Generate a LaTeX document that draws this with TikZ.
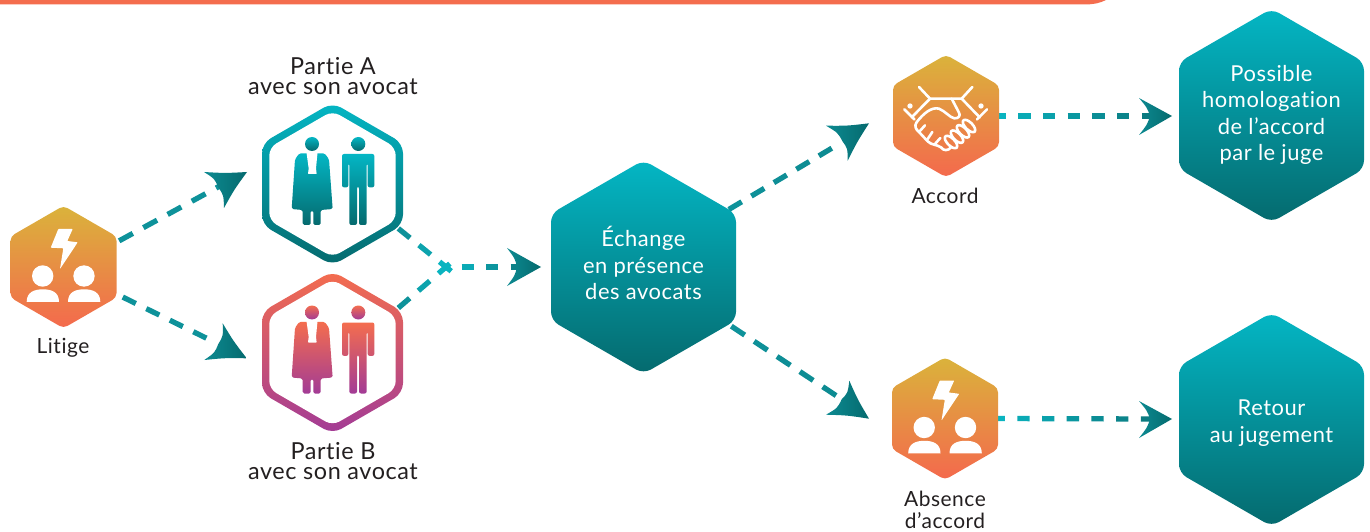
\documentclass[tikz,border=0pt]{standalone}
\usepackage{fontspec}
\usetikzlibrary{calc,shapes.geometric}
\setmainfont{Lato}[LetterSpace=2.5,Ligatures=CommonOff]
\definecolor{tealA}{HTML}{04B6C4}
\definecolor{tealB}{HTML}{056A6E}
\definecolor{dashA}{HTML}{0AB4C0}
\definecolor{dashB}{HTML}{0B7A80}
\definecolor{dashM}{HTML}{0E929A}
\definecolor{oranA}{HTML}{DAB33B}
\definecolor{oranB}{HTML}{F4694D}
\definecolor{purpA}{HTML}{F46D4E}
\definecolor{purpB}{HTML}{A23B96}
\definecolor{inkc}{HTML}{231F20}
\tikzset{
  hexbase/.style={regular polygon,regular polygon sides=6,shape border rotate=30,inner sep=0pt,outer sep=0pt},
  bighex/.style={hexbase,minimum size=213.6bp,rounded corners=8.5bp,top color=tealA,bottom color=tealB},
  hextext/.style={text=white,align=center,inner sep=0pt,font=\fontsize{22}{26.7}\selectfont},
  smallhex/.style={hexbase,minimum size=122.4bp,rounded corners=4.5bp,top color=oranA,bottom color=oranB},
  ringteal/.style={hexbase,minimum size=162.8bp,rounded corners=10bp,top color=tealA,bottom color=tealB},
  ringpurp/.style={hexbase,minimum size=162.8bp,rounded corners=10bp,top color=purpA,bottom color=purpB},
  ringin/.style={hexbase,minimum size=146bp,rounded corners=8bp,fill=white},
  lab/.style={text=inkc,align=center,inner sep=0pt,font=\fontsize{21}{22}\selectfont},
  biglab/.style={text=inkc,align=center,inner sep=0pt,font=\fontsize{23.5}{20}\selectfont},
  dashseg/.style={line width=5.3bp},
  whiteline/.style={draw=white,line width=2.6bp,line cap=round,line join=round,fill=none},
}
% dashed connector with a colour running along it
\newcommand\conn[8]{%
  \pgfmathtruncatemacro\nlast{#4-1}
  \foreach \i in {0,...,\nlast}{%
    \pgfmathsetmacro\da{#3+\i*#5}
    \pgfmathsetmacro\db{\da+#6}
    \pgfmathsetmacro\mx{100*\i/max(\nlast,1)}
    \draw[dashseg,color=#8!\mx!#7] ($(#1)!\da bp!(#2)$) -- ($(#1)!\db bp!(#2)$);
  }%
}
% concave arrowhead: tip, barb, notch, barb
\newcommand\headshape[4]{%
  \shade[left color=dashM!80!tealB,right color=tealB,rounded corners=0pt]
    (#2) .. controls ($(#2)!.5!(#1)!.08!(#3)$) .. (#1)
    .. controls ($(#4)!.5!(#1)!.08!(#3)$) .. (#4)
    .. controls ($(#4)!.5!(#3)!.1!(#1)$) .. (#3)
    .. controls ($(#2)!.5!(#3)!.1!(#1)$) .. (#2) -- cycle;
}
% lightning and two persons, in reference px, around the given hexagon
\newcommand\disputeicon[1]{%
  \begin{scope}[shift={(#1)}]
    \fill[white,rounded corners=.6bp] (-5.2,-38) -- (9.2,-38) -- (3.8,-26) -- (14.2,-24.7) -- (-3.5,2) -- (-0.2,-18.7) -- (-12.8,-19.3) -- cycle;
    \fill[white] (-20.8,9) circle (10.7);
    \fill[white] (20.5,9) circle (10.7);
    \fill[white] (-36.8,34.8) .. controls (-36.8,25) and (-29,22.3) .. (-20.6,22.3) .. controls (-12,22.3) and (-4.5,25) .. (-4.5,34.8) -- cycle;
    \fill[white] (4.5,34.8) .. controls (4.5,25) and (12,22.3) .. (20.6,22.3) .. controls (29,22.3) and (36.8,25) .. (36.8,34.8) -- cycle;
  \end{scope}%
}
% robed figure and plain figure
\newcommand\figures[3]{%
  \begin{scope}[shift={(#1)},x=1bp/3,y=-1bp/3,shift={(-157.5,-162)}]
    \shade[top color=#2,bottom color=#3] (96,42) circle (21);
    \shade[top color=#2,bottom color=#3] (235,42) circle (21);
    \shade[top color=#2,bottom color=#3,rounded corners=1.6bp]
      (35,237) -- (45,88) -- (58,70) -- (134,70) -- (147,88) -- (158,237) -- (122,240) -- (122,285) -- (100,285) -- (100,242) -- (92,242) -- (92,285) -- (68,285) -- (68,240) -- cycle;
    \fill[white,rounded corners=.5bp] (79,64) -- (113,64) -- (108,115) -- (110,132) -- (84,132) -- (86,115) -- cycle;
    \shade[top color=#2,bottom color=#3,rounded corners=2bp]
      (186,172) -- (186,72) -- (283,72) -- (283,172) -- (263,172) -- (263,100) -- (260,100) -- (260,285) -- (237,285) -- (237,170) -- (231,170) -- (231,285) -- (208,285) -- (208,100) -- (205,100) -- (205,172) -- cycle;
  \end{scope}%
}
\begin{document}
\begin{tikzpicture}[x=1bp,y=-1bp]
\useasboundingbox (0,0) rectangle (1370,532);
% top bar
\fill[purpA] (0,0) -- (1106,0) .. controls (1100,3) and (1094,4.4) .. (1086,4.4) -- (0,4.4) -- cycle;
% positions
\coordinate (litigeC) at (63.5,267);
\coordinate (junction) at (446,267);
% arrow head points
\coordinate (tipA) at (247,172);   \coordinate (bA1) at (204,172);   \coordinate (nA) at (218,187);   \coordinate (bA2) at (224,208);
\coordinate (tipB) at (246.7,358.3); \coordinate (bB1) at (222.7,323.3); \coordinate (nB) at (218.3,344); \coordinate (bB2) at (204.3,360);
\coordinate (tipE) at (541,267);   \coordinate (bE1) at (507,248);   \coordinate (nE) at (517,267);   \coordinate (bE2) at (507,286);
\coordinate (tipC) at (869,123.3); \coordinate (bC1) at (826,125.7); \coordinate (nC) at (842.7,141.7); \coordinate (bC2) at (847.7,160.7);
\coordinate (tipD) at (869,418.7); \coordinate (bD1) at (849.3,380.7); \coordinate (nD) at (841.7,399.3); \coordinate (bD2) at (826,414.7);
\coordinate (tipP) at (1172,116);  \coordinate (bP1) at (1139,98);   \coordinate (nP) at (1150,116);  \coordinate (bP2) at (1139,135);
\coordinate (tipR) at (1172,419);  \coordinate (bR1) at (1139,401);  \coordinate (nR) at (1150,419);  \coordinate (bR2) at (1139,438);
% placement of nodes for the connectors
\path node[hexbase,minimum size=122.4bp] (litigeP) at (litigeC) {}
      node[hexbase,minimum size=162.8bp] (partieAP) at (332.5,184) {}
      node[hexbase,minimum size=162.8bp] (partieBP) at (332.5,352.5) {}
      node[hexbase,minimum size=213.6bp] (echangeP) at (643.5,267) {}
      node[hexbase,minimum size=122.4bp] (accordP) at (946,116) {}
      node[hexbase,minimum size=122.4bp] (absenceP) at (945,418.5) {};
% connectors
\conn{litigeP.25}{nA}{3}{5}{27.6}{15.6}{dashM}{dashM}
\conn{litigeP.-27}{nB}{7}{4}{26.2}{14.5}{dashM}{dashM}
\conn{partieAP.-34}{junction}{1}{3}{26.5}{15}{dashM}{dashA}
\conn{partieBP.34}{junction}{1}{3}{26.5}{15}{dashM}{dashA}
\conn{junction}{nE}{15.5}{3}{24.5}{12}{dashA!70!dashM}{dashB}
\conn{echangeP.34}{nC}{0}{5}{26.2}{15}{dashM}{dashM!70!dashB}
\conn{echangeP.-34}{nD}{3}{5}{27.4}{16}{dashM}{dashM!70!dashB}
\conn{accordP.0}{nP}{-5.4}{7}{24.7}{12.3}{dashA}{dashB}
\conn{absenceP.0}{nR}{-5.4}{7}{24.7}{12.3}{dashA}{dashB}
\fill[dashA] (junction) circle (3.6);
% arrow heads
\headshape{tipA}{bA1}{nA}{bA2}
\headshape{tipB}{bB1}{nB}{bB2}
\headshape{tipE}{bE1}{nE}{bE2}
\headshape{tipC}{bC1}{nC}{bC2}
\headshape{tipD}{bD1}{nD}{bD2}
\headshape{tipP}{bP1}{nP}{bP2}
\headshape{tipR}{bR1}{nR}{bR2}
% nodes
\node[smallhex] (litige) at (litigeC) {};
\disputeicon{litige}
\node[lab] (litigeL) at (63,347.5) {Litige};
\node[ringteal] (partieA) at (332.5,184) {};
\node[ringin] (partieAin) at (partieA) {};
\figures{partieA}{tealA}{tealB}
\node[biglab] (partieAL) at (333,76.5) {Partie A\\avec son avocat};
\node[ringpurp] (partieB) at (332.5,352.5) {};
\node[ringin] (partieBin) at (partieB) {};
\figures{partieB}{purpA}{purpB}
\node[biglab] (partieBL) at (333,461.5) {Partie B\\avec son avocat};
\node[bighex] (echange) at (643.5,267) {};
\node[hextext] (echangeT) at (643.5,263) {Échange\\en présence\\des avocats};
\node[smallhex] (accord) at (946,116) {};
\begin{scope}[shift={(accord)},x=1bp/3,y=-1bp/3,shift={(-153,-120)}]
  \draw[whiteline] (72,33) -- (105,68) -- (200,68) -- (232,33);
  \draw[whiteline] (28,100) -- (58,130);
  \draw[whiteline] (276,100) -- (246,130);
  \draw[whiteline] (105,68) -- (50,124);
  \draw[whiteline] (200,68) -- (254,124);
  \fill[white] (45,90) circle (8);
  \fill[white] (258,90) circle (8);
  \draw[whiteline] (64,140) .. controls (85,112) and (110,92) .. (132,98) .. controls (150,105) and (165,125) .. (178,127) .. controls (192,128) and (197,118) .. (192,110) -- (170,68);
  \draw[whiteline] (64,140) .. controls (58,150) and (62,160) .. (72,168) -- (98,196) .. controls (110,208) and (125,205) .. (138,214);
  \draw[whiteline] (90,148) -- (72,168);
  \draw[whiteline] (112,168) -- (96,192);
  \draw[whiteline] (136,186) -- (118,206);
  \foreach \cx/\cy in {222/150,204/166,186/182,168/198}
    \draw[whiteline] (\cx,\cy) ellipse [x radius=24,y radius=11,rotate=-45];
  \draw[whiteline] (138,214) .. controls (145,225) and (160,225) .. (168,214);
\end{scope}
\node[lab] (accordL) at (945,195.5) {Accord};
\node[smallhex] (absence) at (945,418.5) {};
\disputeicon{absence}
\node[lab] (absenceL) at (945,510) {Absence\\d’accord};
\node[bighex] (possible) at (1271.5,115.5) {};
\node[hextext] (possibleT) at (1271.5,115) {Possible\\homologation\\de l’accord\\par le juge};
\node[bighex] (retour) at (1271.5,419.5) {};
\node[hextext] (retourT) at (1271.5,423) {Retour\\au jugement};
\end{tikzpicture}
\end{document}
